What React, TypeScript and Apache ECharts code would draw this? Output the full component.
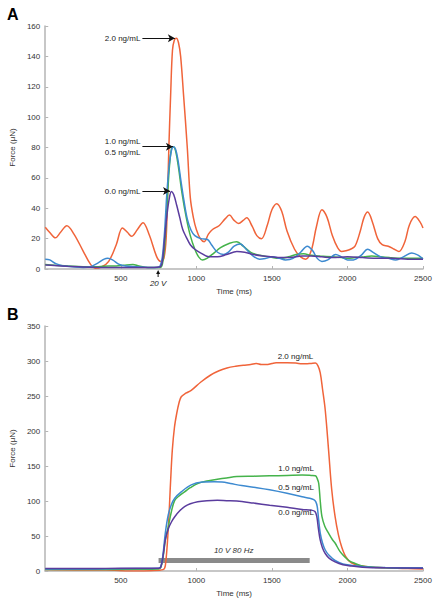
import React, { useEffect, useRef } from "react";
import * as echarts from "echarts";

const FONT = "'Liberation Sans', Arial, sans-serif";
const COLORS = { c20: "#f0643a", c10: "#45b34b", c05: "#3d8ad0", c00: "#5a3c9e" };

const concLabels = ["2.0 ng/mL", "1.0 ng/mL", "0.5 ng/mL", "0.0 ng/mL"];
const timeTicksA = [0, 500, 1000, 1500, 2000, 2500];
const stimLabelA = "20 V";
const stimTimeA = 747;
const stimLabelB = "10 V 80 Hz";
const stimBarB = [[750, 15], [1750, 15]];

const orangeA = [[0,27.5],[30,24],[67,20.5],[100,24],[143,28.5],[190,23],[250,12],[300,3],[330,0.5],[375,1.5],[420,5],[470,16],[511,27],[545,24],[571,21.5],[610,26],[647,30.5],[690,22],[738,8],[765,5],[785,7],[800,20],[810,50],[818,80],[830,115],[842,144],[855,151],[868,152],[882,149],[896,140],[915,115],[940,80],[960,47],[980,34],[1000,26],[1026,20],[1052,18],[1080,23],[1107,26],[1150,28.5],[1190,33],[1219,35.5],[1250,32],[1280,30],[1310,32],[1333,33.7],[1370,28],[1400,22],[1431,20],[1470,29],[1500,39],[1532,43],[1565,38],[1600,25],[1650,13],[1690,8],[1723,6.5],[1760,12],[1795,28],[1831,39],[1865,34],[1900,22],[1935,14],[1961,11.5],[1990,12],[2020,13],[2050,15],[2085,25],[2110,34],[2134,37.5],[2165,31],[2200,20],[2230,16],[2270,15],[2310,13],[2340,11.5],[2380,18],[2410,29],[2448,34.5],[2480,31],[2500,27]];
const greenA = [[0,3],[60,2.5],[150,2],[250,1.5],[350,1.5],[420,2],[470,2],[520,2.5],[580,3],[620,2],[680,1],[760,1],[775,3],[790,15],[805,40],[820,65],[835,79],[848,80.5],[862,78],[880,68],[905,50],[933,34],[960,22],[990,13],[1015,8],[1040,6],[1070,7],[1110,10],[1160,14],[1220,17],[1268,18],[1310,15],[1360,11],[1420,9],[1482,8],[1550,7],[1610,8],[1660,9.5],[1710,10],[1760,9],[1820,8.5],[1900,8],[1960,7.5],[2000,7],[2050,7.5],[2110,8],[2160,8.5],[2220,8],[2280,7.5],[2350,7],[2420,7],[2500,7]];
const blueA = [[0,6.5],[30,6],[70,3.5],[120,2],[180,1.5],[250,1],[300,1.5],[350,4],[390,6.5],[414,7],[445,6],[490,3],[530,2],[600,1.5],[680,1],[740,1],[760,2],[775,8],[790,25],[805,50],[820,68],[835,78],[848,80.5],[862,79],[878,72],[898,58],[918,45],[940,33],[965,25.5],[990,22],[1030,20],[1074,19.4],[1100,16],[1140,11],[1180,9.5],[1210,11],[1250,15],[1290,16.5],[1330,13],[1370,9],[1418,6.5],[1460,7],[1505,8],[1550,7],[1590,6],[1640,7],[1690,11],[1734,15],[1770,12],[1800,7],[1831,5],[1870,6],[1922,9.6],[1960,8],[2000,6],[2040,6],[2090,9],[2134,13],[2170,11],[2220,8],[2270,7],[2320,6],[2370,8],[2426,10.6],[2470,9],[2500,6.5]];
const purpleA = [[0,2.6],[60,2.3],[150,1.8],[250,1.3],[400,1],[550,1],[700,1],[760,1.5],[775,5],[790,20],[805,35],[820,46],[835,51],[850,49],[870,42],[890,34],[910,26],[933,21],[960,16],[990,13],[1030,10.5],[1085,8],[1140,8],[1200,9.5],[1268,11.5],[1320,11],[1380,9.5],[1440,8.5],[1500,8],[1560,7.5],[1620,7.5],[1700,8.5],[1760,8.5],[1830,8],[1900,7.5],[2000,8],[2100,7.5],[2200,7],[2300,7],[2400,6.5],[2500,6.5]];

const orangeB = [[0,2],[200,1.5],[400,1.5],[500,0.5],[600,0],[700,0.5],[780,2],[795,8],[814,60],[830,130],[841,173],[855,205],[870,225],[885,240],[900,249],[930,254],[966,258],[1030,270],[1095,280],[1150,286],[1203,290],[1260,292.5],[1311,294],[1360,295],[1398,296.5],[1430,295],[1463,295],[1500,296.5],[1528,297.5],[1600,297.5],[1658,297],[1700,296],[1723,296],[1760,296.5],[1788,297],[1805,293],[1820,283],[1835,260],[1853,230],[1875,173],[1896,116],[1918,78],[1940,52],[1961,35],[1990,20],[2026,11.5],[2080,8],[2134,6],[2250,4.5],[2400,3.5],[2500,3]];
const greenB = [[0,2],[300,2],[600,2.5],[750,3],[765,5],[780,20],[795,45],[814,63],[835,85],[857,101],[890,108],[922,113],[960,119],[1009,125],[1070,128.5],[1139,131],[1200,133],[1268,135],[1380,135.5],[1485,136],[1600,136.5],[1700,137],[1760,136.5],[1788,136],[1800,132],[1810,125],[1820,100],[1831,78],[1850,64],[1875,54],[1900,45],[1918,40],[1950,28],[1983,20],[2015,14],[2048,11],[2100,7],[2200,5],[2350,4],[2500,4]];
const blueB = [[0,3],[300,3],[600,3.5],[750,4],[765,6],[780,25],[795,55],[814,80],[835,95],[857,104],[900,113],[966,123],[1040,127],[1117,127.6],[1170,127],[1225,125],[1300,122],[1400,119],[1485,116],[1600,111],[1700,106],[1750,104],[1777,102],[1790,99],[1800,92],[1810,72],[1820,54],[1835,40],[1853,30],[1880,22],[1918,15],[1970,10],[2030,8],[2100,6],[2250,5],[2500,4.5]];
const purpleB = [[0,3.5],[300,3.5],[500,4],[750,4],[765,6],[780,22],[795,45],[814,60],[835,70],[857,77.6],[890,86],[922,92],[960,96],[1009,99],[1070,100.5],[1139,101],[1200,100.5],[1268,100],[1380,97],[1485,94],[1600,91],[1700,88],[1760,87],[1785,85],[1797,78],[1808,60],[1820,44],[1835,33],[1853,25],[1880,18],[1918,13],[1970,9],[2030,7],[2100,5.5],[2250,4.5],[2500,4]];

// annotation anchor points (data coordinates)
const arrowsA = [
  { label: concLabels[0], from: [643, 152], to: [858, 152] },
  { label: concLabels[1] + "\n" + concLabels[2], from: [643, 80.5], to: [845, 80.5] },
  { label: concLabels[3], from: [643, 51.3], to: [826, 51.3] },
];
const labelsB = [
  { label: concLabels[0], at: [1656, 307] },
  { label: concLabels[1], at: [1660, 146] },
  { label: concLabels[2], at: [1660, 119] },
  { label: concLabels[3], at: [1660, 83] },
];

export default function App() {
  const ref = useRef<HTMLDivElement>(null);
  useEffect(() => {
    document.body.style.margin = "0";
    const chart = echarts.init(ref.current!, null, { renderer: "svg" });
    const axisCommon = {
      axisLine: { lineStyle: { color: "#b5b5b5", width: 1.5 } },
      axisTick: { inside: true, length: 3, lineStyle: { color: "#b5b5b5" } },
      splitLine: { show: false },
      axisLabel: { fontSize: 8, color: "#333", fontFamily: FONT },
      nameTextStyle: { fontSize: 8, color: "#333", fontFamily: FONT },
    };
    const xAxis = (gi: number) => ({
      ...axisCommon,
      type: "value",
      gridIndex: gi,
      min: 0,
      max: 2500,
      interval: 500,
      name: "Time (ms)",
      nameLocation: "middle",
      nameGap: 18,
      axisLabel: { ...axisCommon.axisLabel, margin: 5, formatter: (v: number) => (v === 0 ? "" : String(v)) },
    });
    const yAxis = (gi: number, max: number, interval: number) => ({
      ...axisCommon,
      type: "value",
      gridIndex: gi,
      min: 0,
      max,
      interval,
      name: "Force (\u03bcN)",
      nameLocation: "middle",
      nameRotate: 90,
      nameGap: 24,
      axisLabel: { ...axisCommon.axisLabel, margin: 5 },
    });
    const line = (name: string, data: number[][], color: string, gi: number, extra: any = {}) => ({
      type: "line",
      name,
      xAxisIndex: gi,
      yAxisIndex: gi,
      data,
      smooth: 0.35,
      showSymbol: false,
      symbol: "none",
      lineStyle: { color, width: 1.5 },
      itemStyle: { color },
      ...extra,
    });
    const markLineFor = (a: any) => ({
      silent: true,
      symbol: ["none", "arrow"],
      symbolSize: [6, 7],
      lineStyle: { color: "#111", width: 1, type: "solid" },
      label: { show: true, position: "start", distance: 2, formatter: a.label, fontSize: 8, lineHeight: 11, color: "#222", fontFamily: FONT },
      data: [[{ coord: a.from }, { coord: a.to }]],
    });
    const markPointFor = (l: any) => ({
      silent: true,
      symbol: "circle",
      symbolSize: 0,
      label: { show: true, position: "inside", formatter: l.label, fontSize: 8, color: "#222", fontFamily: FONT },
      data: [{ coord: l.at }],
    });
    const option: any = {
      animation: false,
      backgroundColor: "#fff",
      textStyle: { fontFamily: FONT },
      grid: [
        { left: 38, top: 26, width: 385, height: 243 },
        { left: 38, top: 326, width: 385, height: 245 },
      ],
      xAxis: [xAxis(0), xAxis(1)],
      yAxis: [yAxis(0, 160, 20), yAxis(1, 350, 50)],
      series: [
        line("2.0 A", orangeA, COLORS.c20, 0, { markLine: markLineFor(arrowsA[0]) }),
        line("1.0 A", greenA, COLORS.c10, 0, { markLine: markLineFor(arrowsA[1]) }),
        line("0.5 A", blueA, COLORS.c05, 0),
        line("0.0 A", purpleA, COLORS.c00, 0, { markLine: markLineFor(arrowsA[2]) }),
        line("2.0 B", orangeB, COLORS.c20, 1, { markPoint: markPointFor(labelsB[0]) }),
        line("1.0 B", greenB, COLORS.c10, 1, { markPoint: markPointFor(labelsB[1]) }),
        line("0.5 B", blueB, COLORS.c05, 1, { markPoint: markPointFor(labelsB[2]) }),
        line("0.0 B", purpleB, COLORS.c00, 1, { markPoint: markPointFor(labelsB[3]) }),
        {
          type: "line",
          name: "stim",
          xAxisIndex: 1,
          yAxisIndex: 1,
          data: stimBarB,
          symbol: "none",
          z: 1,
          lineStyle: { color: "#8a8a8a", width: 5, cap: "butt" },
          markPoint: {
            silent: true,
            symbol: "circle",
            symbolSize: 0,
            label: { show: true, position: "inside", formatter: stimLabelB, fontSize: 8, fontStyle: "italic", color: "#333", fontFamily: FONT },
            data: [{ coord: [1247, 29] }],
          },
        },
      ],
    };
    chart.setOption(option);
    const p = chart.convertToPixel({ gridIndex: 0 }, [stimTimeA, 0]) as number[];
    chart.setOption({
      graphic: [
        { type: "text", left: 7, top: 6, style: { text: "A", font: `bold 16px ${FONT}`, fill: "#000" } },
        { type: "text", left: 7, top: 306, style: { text: "B", font: `bold 16px ${FONT}`, fill: "#000" } },
        { type: "line", shape: { x1: p[0], y1: p[1] + 4, x2: p[0], y2: p[1] + 8 }, style: { stroke: "#111", lineWidth: 1 } },
        { type: "polygon", shape: { points: [[p[0] - 2, p[1] + 5], [p[0] + 2, p[1] + 5], [p[0], p[1] + 1]] }, style: { fill: "#111" } },
        { type: "text", x: p[0], y: p[1] + 14, style: { text: stimLabelA, font: `italic 8px ${FONT}`, fill: "#222", align: "center", verticalAlign: "middle" } },
      ],
    });
    return () => chart.dispose();
  }, []);
  return <div ref={ref} style={{ width: 443, height: 601 }} />;
}
